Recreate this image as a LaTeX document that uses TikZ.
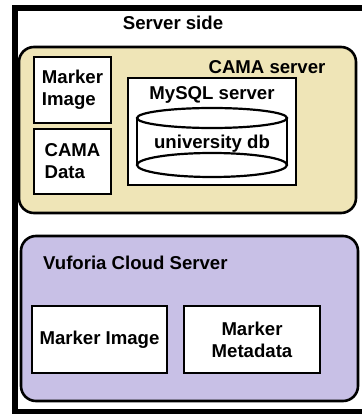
\documentclass[tikz,border=0pt]{standalone}
\usepackage{fontspec}
\setmainfont{Liberation Sans}
\usepackage{xcolor}
\usetikzlibrary{positioning}

\definecolor{camafill}{RGB}{239,229,183}
\definecolor{vufofill}{RGB}{200,192,230}

\tikzset{
  txt/.style={font=\fontsize{18.6}{22}\selectfont\bfseries, inner sep=0pt},
  group/.style={draw, line width=2.6pt, rounded corners=15pt, inner sep=0pt},
  box/.style={draw, fill=white, line width=2.6pt, inner sep=0pt, txt},
}

\begin{document}
\begin{tikzpicture}[x=1pt, y=-1pt]
      \useasboundingbox[fill=white] (0,0) rectangle (361,414);

      % Outer frame (cut off on the right)
      \draw[line width=6pt] (370,8) -- (14.5,8) -- (14.5,411.5) -- (370,411.5);
      \node[txt] (side) at (173,23) {Server side};

      % CAMA server region
      \node[group, fill=camafill, minimum width=337pt, minimum height=166pt] (cama) at (187.5,130) {};
      \node[txt] (camalbl) at (267,67) {CAMA server};
      \node[box, minimum width=77pt, minimum height=66pt, align=left] (cimg) at (72.5,90) {Marker\\Image};
      \node[box, minimum width=77pt, minimum height=65pt, align=left] (cdata) at (72.5,161.5) {CAMA\\Data};
      \node[box, minimum width=168pt, minimum height=107pt] (mysql) at (212,131.5) {};
      \node[txt] (mysqllbl) at (212,95) {MySQL server};

      % Database cylinder
      \coordinate (dbtop) at (212,118);
      \coordinate (dbbot) at (212,165);
      \draw[line width=2.2pt] (dbtop) ellipse [x radius=75, y radius=10];
      \draw[line width=2.2pt] (dbbot) ellipse [x radius=75, y radius=12];
      \draw[line width=2.2pt] ([xshift=-75pt]dbtop) -- ([xshift=-75pt]dbbot);
      \draw[line width=2.2pt] ([xshift=75pt]dbtop) -- ([xshift=75pt]dbbot);
      \node[txt] (db) at (212,144) {university db};

      % Vuforia region
      \node[group, fill=vufofill, minimum width=337pt, minimum height=165pt] (vufo) at (189.5,318.5) {};
      \node[txt, anchor=west] (vufolbl) at (43,263) {Vuforia Cloud Server};
      \node[box, minimum width=135pt, minimum height=67pt] (vimg) at (99.5,339.5) {Marker Image};
      \node[box, minimum width=136pt, minimum height=67pt, align=center] (vmeta) at (252,339.5) {Marker\\Metadata};
\end{tikzpicture}
\end{document}
